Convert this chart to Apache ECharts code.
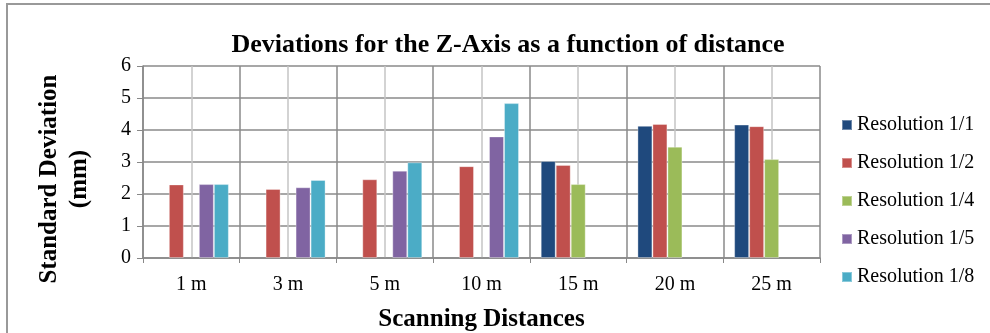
<!DOCTYPE html>
<html>
<head>
<meta charset="utf-8">
<script src="https://cdn.jsdelivr.net/npm/echarts@6/dist/echarts.min.js"></script>
<style>html,body{margin:0;padding:0;background:#fff}#c{width:990px;height:333px}</style>
</head>
<body>
<div id="c"></div>
<script>
const categories = ['1 m', '3 m', '5 m', '10 m', '15 m', '20 m', '25 m'];
const res1_1 = [null, null, null, null, 3.03, 4.13, 4.17];
const res1_2 = [2.30, 2.16, 2.46, 2.87, 2.91, 4.19, 4.12];
const res1_4 = [null, null, null, null, 2.31, 3.48, 3.09];
const res1_5 = [2.31, 2.21, 2.73, 3.80, null, null, null];
const res1_8 = [2.31, 2.44, 2.99, 4.84, null, null, null];
const seriesNames = ['Resolution 1/1', 'Resolution 1/2', 'Resolution 1/4', 'Resolution 1/5', 'Resolution 1/8'];
const seriesColors = ['#1F497D', '#C0504D', '#9BBB59', '#8064A2', '#4BACC6'];
const yTicks = [0, 1, 2, 3, 4, 5, 6];

const FONT = '"Liberation Serif", "Times New Roman", serif';
const chart = echarts.init(document.getElementById('c'), null, {renderer: 'canvas'});
const allData = [res1_1, res1_2, res1_4, res1_5, res1_8];

chart.setOption({
  animation: false,
  backgroundColor: '#fff',
  title: {
    text: 'Deviations for the Z-Axis as a function of distance',
    left: 503, top: 27, textAlign: 'center',
    textStyle: {fontFamily: FONT, fontWeight: 'bold', fontSize: 26, color: '#000'}
  },
  legend: {
    orient: 'vertical', left: 836, top: 110,
    itemWidth: 10, itemHeight: 10, itemGap: 18,
    icon: 'rect',
    data: seriesNames,
    textStyle: {fontFamily: FONT, fontSize: 20, color: '#000', lineHeight: 20, padding: [0,0,0,0]}
  },
  grid: {left: 143, right: 170, top: 66, bottom: 75, containLabel: false, outerBoundsMode: 'none'},
  xAxis: [{
    type: 'category', data: categories, position: 'bottom',
    axisLine: {lineStyle: {color: '#888', width: 1.5}},
    axisTick: {show: true, length: 5, lineStyle: {color: '#888'}},
    axisLabel: {fontFamily: FONT, fontSize: 20, color: '#000', margin: 17},
    splitLine: {show: false},
    name: 'Scanning Distances', nameLocation: 'middle', nameGap: 49,
    nameTextStyle: {fontFamily: FONT, fontWeight: 'bold', fontSize: 25, color: '#000', padding: [0,0,0,0]}
  }, {
    type: 'value', min: 0, max: 14, interval: 1, position: 'top',
    axisLine: {show: false}, axisTick: {show: false}, axisLabel: {show: false},
    splitLine: {show: true, lineStyle: {color: ['#8a8a8a', '#c4c4c4'], width: 1.5}}
  }],
  yAxis: {
    type: 'value', min: yTicks[0], max: yTicks[yTicks.length - 1], interval: 1,
    axisLine: {show: true, lineStyle: {color: '#888', width: 1.5}},
    axisTick: {show: true, length: 6, lineStyle: {color: '#888'}},
    axisLabel: {fontFamily: FONT, fontSize: 20, color: '#000', margin: 12},
    splitLine: {show: true, lineStyle: {color: '#8a8a8a', width: 1.5}},
    name: 'Standard Deviation\n(mm)', nameLocation: 'middle', nameGap: 48, nameRotate: 90,
    nameTextStyle: {fontFamily: FONT, fontWeight: 'bold', fontSize: 25, color: '#000', lineHeight: 30, padding: [0, 34, 0, 0]}
  },
  series: seriesNames.map((n, i) => ({
    name: n, type: 'bar', xAxisIndex: 0, barWidth: 15, barGap: '0%',
    data: allData[i],
    itemStyle: {color: seriesColors[i], borderColor: 'rgba(255,255,255,0.35)', borderWidth: 1},
    z: 3
  })),
  graphic: [{
    type: 'rect', shape: {x: 7, y: 4, width: 1000, height: 400},
    style: {fill: 'none', stroke: '#999', lineWidth: 2}, silent: true, z: 100
  }]
});
</script>
</body>
</html>
